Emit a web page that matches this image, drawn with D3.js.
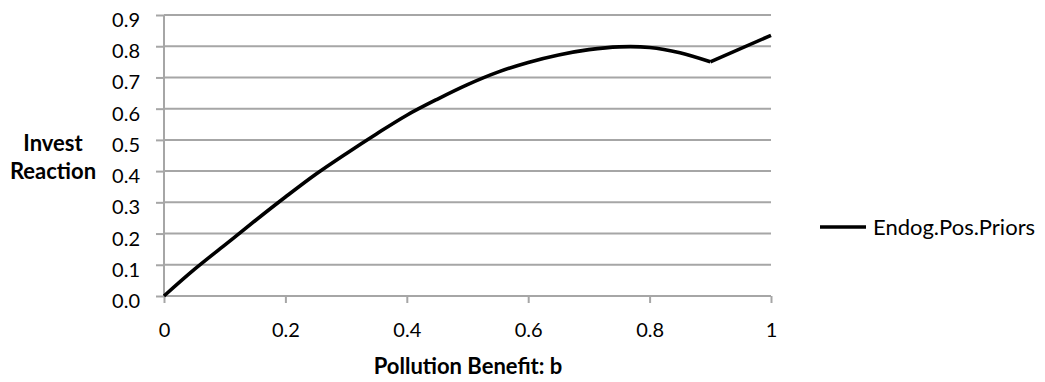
<!DOCTYPE html>
<html>
<head>
<meta charset="utf-8">
<script src="https://cdn.jsdelivr.net/npm/d3@7"></script>
<style>
  body { margin: 0; background: #fff; }
  svg { display: block; font-family: Lato, 'Open Sans', sans-serif; }
  .axis path, .axis line { stroke: #a6a6a6; stroke-width: 2; }
  .grid line { stroke: #a6a6a6; stroke-width: 2; }
</style>
</head>
<body>
<div id="chart"></div>
<script>
'use strict';

// values
let xValues = [0, 0.05, 0.1, 0.15, 0.2, 0.25, 0.3, 0.35, 0.4, 0.45, 0.5,
               0.55, 0.6, 0.65, 0.7, 0.75, 0.8, 0.85, 0.9, 0.95, 1.0];
let yValues = [0, 0.085, 0.163, 0.241, 0.317, 0.39, 0.456, 0.519, 0.579, 0.63, 0.677,
               0.717, 0.748, 0.772, 0.789, 0.798, 0.796, 0.779, 0.75, 0.792, 0.835];
let xTicks = [0, 0.2, 0.4, 0.6, 0.8, 1];
let yTicks = [0, 0.1, 0.2, 0.3, 0.4, 0.5, 0.6, 0.7, 0.8, 0.9];
let seriesName = 'Endog.Pos.Priors';
let xTitle = 'Pollution Benefit: b';
let yTitle = ['Invest', 'Reaction'];

let width = 1045,
    height = 382,
    margin = { top: 15, left: 164, right: 274, bottom: 86 };

let plotW = width - margin.left - margin.right,
    plotH = height - margin.top - margin.bottom;

let svg = d3.select('#chart').append('svg')
    .attr('width', width)
    .attr('height', height);

let g = svg.append('g')
    .attr('transform', 'translate(' + margin.left + ',' + margin.top + ')');

let x = d3.scaleLinear().domain([0, 1]).range([0, plotW]);
let y = d3.scaleLinear().domain([0, 0.9]).range([plotH, 0]);

// gridlines
g.append('g')
    .attr('class', 'grid')
    .selectAll('line')
    .data(yTicks.slice(1))
    .enter().append('line')
    .attr('x1', 0)
    .attr('x2', plotW)
    .attr('y1', function(d) { return y(d); })
    .attr('y2', function(d) { return y(d); });

// axes
let gX = g.append('g')
    .attr('class', 'axis x-axis')
    .attr('transform', 'translate(0,' + plotH + ')')
    .call(d3.axisBottom(x).tickValues(xTicks).tickSize(7)
        .tickFormat(function(d) { return d === 0 || d === 1 ? d3.format('d')(d) : d3.format('.1f')(d); }));
gX.select('.domain').attr('d', 'M0,0H' + plotW);
gX.selectAll('text').attr('y', 41).attr('dy', null);

let gY = g.append('g')
    .attr('class', 'axis y-axis')
    .call(d3.axisLeft(y).tickValues(yTicks).tickSize(8).tickPadding(16).tickFormat(d3.format('.1f')));
gY.select('.domain').attr('d', 'M0,' + plotH + 'V0');
gY.selectAll('text').attr('y', 11.5).attr('dy', null);

svg.selectAll('.axis')
    .attr('font-family', null)
    .attr('font-size', 20)
    .selectAll('text')
    .attr('fill', '#000');

// the series
let line = d3.line()
    .x(function(d, i) { return x(xValues[i]); })
    .y(function(d) { return y(d); })
    .curve(d3.curveCatmullRom);

g.append('path')
    .datum(yValues.slice(0, 19))
    .attr('d', line)
    .attr('fill', 'none')
    .attr('stroke', '#000')
    .attr('stroke-width', 3.6)
    .attr('stroke-linejoin', 'round');

g.append('path')
    .datum([18, 20])
    .attr('d', d3.line()
        .x(function(i) { return x(xValues[i]); })
        .y(function(i) { return y(yValues[i]); }))
    .attr('fill', 'none')
    .attr('stroke', '#000')
    .attr('stroke-width', 3.6)
    .attr('stroke-linejoin', 'round');

// axis titles
svg.append('text')
    .attr('x', 468)
    .attr('y', 374)
    .attr('text-anchor', 'middle')
    .style('font-size', '22px')
    .style('font-weight', 'bold')
    .text(xTitle);

svg.selectAll('.ytitle')
    .data(yTitle)
    .enter().append('text')
    .attr('class', 'ytitle')
    .attr('x', 53)
    .attr('y', function(d, i) { return 151 + i * 28; })
    .attr('text-anchor', 'middle')
    .style('font-size', '22px')
    .style('font-weight', 'bold')
    .text(function(d) { return d; });

// legend
let legend = svg.append('g').attr('transform', 'translate(820,227)');
legend.append('line')
    .attr('x1', 0).attr('x2', 46)
    .attr('stroke', '#000')
    .attr('stroke-width', 3.6);
legend.append('text')
    .attr('x', 53)
    .attr('y', 8)
    .style('font-size', '22px')
    .text(seriesName);
</script>
</body>
</html>
